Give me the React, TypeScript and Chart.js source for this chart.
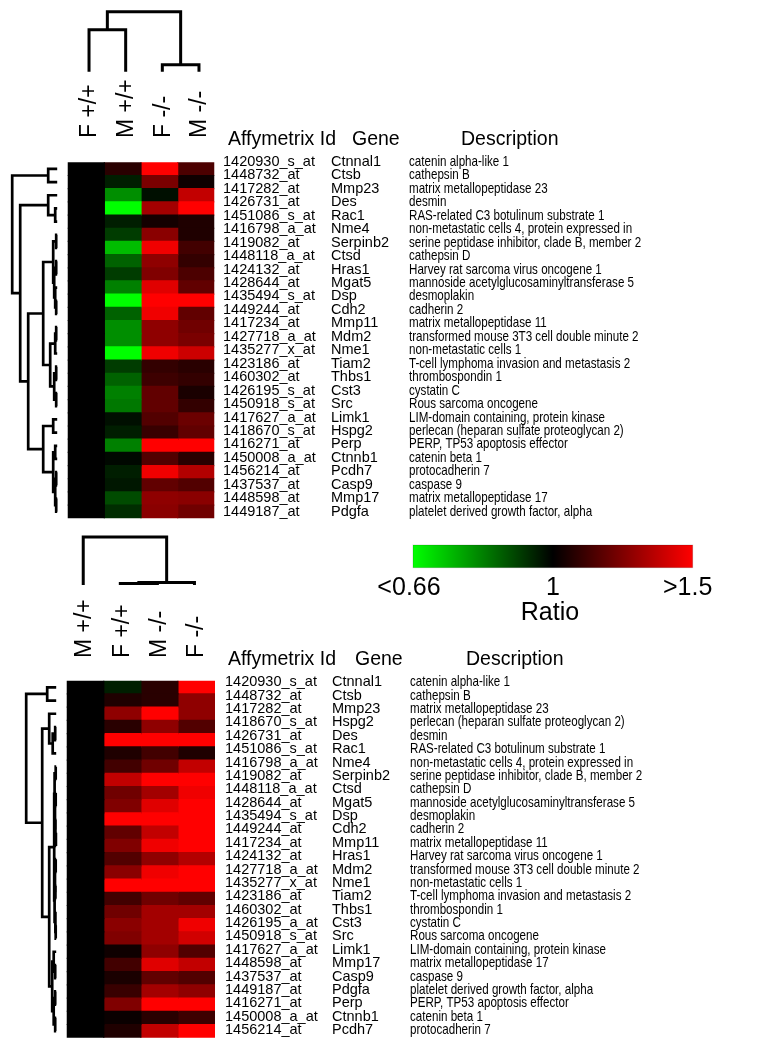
import React, { useEffect, useRef } from 'react';
import { Chart, registerables } from 'chart.js';
Chart.register(...registerables);

const FONT = '"Liberation Sans", Arial, Helvetica, sans-serif';

// ---------------- top panel data ----------------
const topColumns = ['F +/+', 'M +/+', 'F -/-', 'M -/-'];
const topIds = ['1420930_s_at', '1448732_at', '1417282_at', '1426731_at', '1451086_s_at', '1416798_a_at', '1419082_at', '1448118_a_at', '1424132_at', '1428644_at', '1435494_s_at', '1449244_at', '1417234_at', '1427718_a_at', '1435277_x_at', '1423186_at', '1460302_at', '1426195_s_at', '1450918_s_at', '1417627_a_at', '1418670_s_at', '1416271_at', '1450008_a_at', '1456214_at', '1437537_at', '1448598_at', '1449187_at'];
const topGenes = ['Ctnnal1', 'Ctsb', 'Mmp23', 'Des', 'Rac1', 'Nme4', 'Serpinb2', 'Ctsd', 'Hras1', 'Mgat5', 'Dsp', 'Cdh2', 'Mmp11', 'Mdm2', 'Nme1', 'Tiam2', 'Thbs1', 'Cst3', 'Src', 'Limk1', 'Hspg2', 'Perp', 'Ctnnb1', 'Pcdh7', 'Casp9', 'Mmp17', 'Pdgfa'];
const topDescs = ['catenin alpha-like 1', 'cathepsin B', 'matrix metallopeptidase 23', 'desmin', 'RAS-related C3 botulinum substrate 1', 'non-metastatic cells 4, protein expressed in', 'serine peptidase inhibitor, clade B, member 2', 'cathepsin D', 'Harvey rat sarcoma virus oncogene 1', 'mannoside acetylglucosaminyltransferase 5', 'desmoplakin', 'cadherin 2', 'matrix metallopeptidase 11', 'transformed mouse 3T3 cell double minute 2', 'non-metastatic cells 1', 'T-cell lymphoma invasion and metastasis 2', 'thrombospondin 1', 'cystatin C', 'Rous sarcoma oncogene', 'LIM-domain containing, protein kinase', 'perlecan (heparan sulfate proteoglycan 2)', 'PERP, TP53 apoptosis effector', 'catenin beta 1', 'protocadherin 7', 'caspase 9', 'matrix metallopeptidase 17', 'platelet derived growth factor, alpha'];
const topRatioFwt = [1, 1, 1, 1, 1, 1, 1, 1, 1, 1, 1, 1, 1, 1, 1, 1, 1, 1, 1, 1, 1, 1, 1, 1, 1, 1, 1];
const topRatioMwt = [1.08, 0.96, 0.81, 0.62, 0.96, 0.92, 0.75, 0.87, 0.92, 0.83, 0.6, 0.87, 0.81, 0.81, 0.63, 0.92, 0.87, 0.83, 0.84, 0.98, 0.96, 0.83, 0.99, 0.96, 0.97, 0.9, 0.94];
const topRatioFko = [1.6, 1.24, 0.98, 1.32, 1.04, 1.27, 1.47, 1.28, 1.25, 1.44, 1.7, 1.47, 1.28, 1.28, 1.47, 1.1, 1.12, 1.19, 1.19, 1.16, 1.11, 1.6, 1.16, 1.47, 1.19, 1.28, 1.27];
const topRatioMko = [1.15, 1.03, 1.38, 1.6, 1.06, 1.06, 1.13, 1.1, 1.15, 1.19, 1.65, 1.19, 1.22, 1.24, 1.4, 1.08, 1.1, 1.05, 1.1, 1.21, 1.19, 1.55, 1.08, 1.35, 1.16, 1.27, 1.22];

// ---------------- bottom panel data ----------------
const bottomColumns = ['M +/+', 'F +/+', 'M -/-', 'F -/-'];
const bottomIds = ['1420930_s_at', '1448732_at', '1417282_at', '1418670_s_at', '1426731_at', '1451086_s_at', '1416798_a_at', '1419082_at', '1448118_a_at', '1428644_at', '1435494_s_at', '1449244_at', '1417234_at', '1424132_at', '1427718_a_at', '1435277_x_at', '1423186_at', '1460302_at', '1426195_a_at', '1450918_s_at', '1417627_a_at', '1448598_at', '1437537_at', '1449187_at', '1416271_at', '1450008_a_at', '1456214_at'];
const bottomGenes = ['Ctnnal1', 'Ctsb', 'Mmp23', 'Hspg2', 'Des', 'Rac1', 'Nme4', 'Serpinb2', 'Ctsd', 'Mgat5', 'Dsp', 'Cdh2', 'Mmp11', 'Hras1', 'Mdm2', 'Nme1', 'Tiam2', 'Thbs1', 'Cst3', 'Src', 'Limk1', 'Mmp17', 'Casp9', 'Pdgfa', 'Perp', 'Ctnnb1', 'Pcdh7'];
const bottomDescs = ['catenin alpha-like 1', 'cathepsin B', 'matrix metallopeptidase 23', 'perlecan (heparan sulfate proteoglycan 2)', 'desmin', 'RAS-related C3 botulinum substrate 1', 'non-metastatic cells 4, protein expressed in', 'serine peptidase inhibitor, clade B, member 2', 'cathepsin D', 'mannoside acetylglucosaminyltransferase 5', 'desmoplakin', 'cadherin 2', 'matrix metallopeptidase 11', 'Harvey rat sarcoma virus oncogene 1', 'transformed mouse 3T3 cell double minute 2', 'non-metastatic cells 1', 'T-cell lymphoma invasion and metastasis 2', 'thrombospondin 1', 'cystatin C', 'Rous sarcoma oncogene', 'LIM-domain containing, protein kinase', 'matrix metallopeptidase 17', 'caspase 9', 'platelet derived growth factor, alpha', 'PERP, TP53 apoptosis effector', 'catenin beta 1', 'protocadherin 7'];
const bottomRatioMwt = [1, 1, 1, 1, 1, 1, 1, 1, 1, 1, 1, 1, 1, 1, 1, 1, 1, 1, 1, 1, 1, 1, 1, 1, 1, 1, 1];
const bottomRatioFwt = [0.96, 1.06, 1.28, 1.08, 1.7, 1.06, 1.13, 1.38, 1.22, 1.25, 1.8, 1.19, 1.25, 1.16, 1.27, 1.65, 1.13, 1.22, 1.27, 1.25, 1.03, 1.13, 1.05, 1.11, 1.25, 1.02, 1.06];
const bottomRatioMko = [1.08, 1.08, 1.55, 1.28, 1.65, 1.13, 1.22, 1.55, 1.32, 1.44, 1.7, 1.38, 1.47, 1.28, 1.47, 1.7, 1.22, 1.32, 1.32, 1.32, 1.28, 1.44, 1.19, 1.32, 1.55, 1.08, 1.38];
const bottomRatioFko = [1.6, 1.28, 1.28, 1.16, 1.75, 1.06, 1.38, 1.6, 1.47, 1.52, 1.75, 1.55, 1.58, 1.35, 1.56, 1.6, 1.19, 1.32, 1.47, 1.41, 1.16, 1.38, 1.16, 1.28, 1.6, 1.12, 1.6];

// ---------------- legend ----------------
const legendTicks = ['<0.66', '1', '>1.5'];
const legendTitle = 'Ratio';
const RATIO_LOW = 0.66;
const RATIO_HIGH = 1.5;

// ---------------- dendrograms: [left, right, height] ----------------
type Tree = number | [Tree, Tree, number];
const topRowTree: Tree = [
  [0, 1, 9],
  [
    [2, [3, 4, 2], 9],
    [
      [
        [[5, 6, 1], [[7, 8, 1], [9, [10, 11, 1], 2], 3], 4],
        [[[12, 13, 1], 14, 2], [[15, 16, 1], [17, 18, 1], 3], 7],
        14,
      ],
      [
        [19, 20, 4],
        [[21, 22, 2], [[23, 24, 1], [25, 26, 1], 2], 4],
        14,
      ],
      29,
    ],
    37,
  ],
  45,
];
const topColTree: Tree = [[0, 1, 42], [2, 3, 7], 60];

const bottomRowTree: Tree = [
  [0, 1, 9],
  [
    [2, [[3, 4, 1], 5, 3.5], 7],
    [
      [
        [[6, 7, 0.5], [[8, 9, 0.5], [10, [11, 12, 0.3], 0.8], 1.2], 1.6],
        [[[13, 14, 0.5], [15, 16, 0.8], 1.2], [17, [18, 19, 0.5], 0.8], 1.6],
        2,
      ],
      [[20, [21, 22, 1], 2.5], [[23, 24, 1], [25, 26, 1], 2.5], 4],
      7,
    ],
    14,
  ],
  30,
];
const bottomColTree: Tree = [0, [[1, 2, 1.5], 3, 2.5], 48];

function ratioColor(r: number): string {
  if (r >= 1) {
    const t = Math.min(1, (r - 1) / (RATIO_HIGH - 1));
    return `rgb(${Math.round(255 * t)},0,0)`;
  }
  const t = Math.min(1, (1 - r) / (1 - RATIO_LOW));
  return `rgb(0,${Math.round(255 * t)},0)`;
}

type Panel = {
  columns: string[];
  ids: string[];
  genes: string[];
  descs: string[];
  ratios: number[][];
  rowTree: Tree;
  colTree: Tree;
  box: { left: number; right: number; top: number; bottom: number };
  colBaseY: number;
  colLeafDx: number;
  labelStartY: number;
  labelDx: number;
  headerY: number;
  headerX: number[];
  textX: number[];
  textDyFirst: number;
  textDyLast: number;
  legend: boolean;
};

const W = 762;
const H = 525;

const topPanel: Panel = {
  columns: topColumns,
  ids: topIds,
  genes: topGenes,
  descs: topDescs,
  ratios: [topRatioFwt, topRatioMwt, topRatioFko, topRatioMko],
  rowTree: topRowTree,
  colTree: topColTree,
  box: { left: 67.7, right: 214.3, top: 162.3, bottom: 518.3 },
  colBaseY: 71.7,
  colLeafDx: 3,
  labelStartY: 138,
  labelDx: 2,
  headerY: 140,
  headerX: [228, 352, 461],
  textX: [223, 331, 409],
  textDyFirst: -7,
  textDyLast: 0,
  legend: false,
};

const bottomPanel: Panel = {
  columns: bottomColumns,
  ids: bottomIds,
  genes: bottomGenes,
  descs: bottomDescs,
  ratios: [bottomRatioMwt, bottomRatioFwt, bottomRatioMko, bottomRatioFko],
  rowTree: bottomRowTree,
  colTree: bottomColTree,
  box: { left: 66.7, right: 215, top: 155.7, bottom: 512.7 },
  colBaseY: 60,
  colLeafDx: -2,
  labelStartY: 133,
  labelDx: -2,
  headerY: 135,
  headerX: [228, 355, 466],
  textX: [225, 332, 410],
  textDyFirst: -5,
  textDyLast: -1,
  legend: true,
};

function makeDecor(panel: Panel) {
  return {
    id: 'heatDecor',
    afterDraw(chart: any) {
      const ctx: CanvasRenderingContext2D = chart.ctx;
      const xs = chart.scales.x;
      const ys = chart.scales.y;
      const area = chart.chartArea;
      ctx.save();
      ctx.strokeStyle = '#000';
      ctx.fillStyle = '#000';
      ctx.lineJoin = 'miter';
      ctx.lineCap = 'butt';

      // row dendrogram
      const leafX = area.left - 10.5;
      ctx.lineWidth = 2.7;
      const rowNode = (t: Tree): { y: number; h: number } => {
        if (typeof t === 'number') return { y: ys.getPixelForValue(t), h: 0 };
        const a = rowNode(t[0]);
        const b = rowNode(t[1]);
        const nx = leafX - t[2];
        ctx.beginPath();
        ctx.moveTo(leafX - a.h, a.y);
        ctx.lineTo(nx, a.y);
        ctx.lineTo(nx, b.y);
        ctx.lineTo(leafX - b.h, b.y);
        ctx.stroke();
        return { y: (a.y + b.y) / 2, h: t[2] };
      };
      rowNode(panel.rowTree);

      // column dendrogram
      ctx.lineWidth = 3;
      const base = panel.colBaseY;
      const colNode = (t: Tree): { x: number; h: number } => {
        if (typeof t === 'number') return { x: xs.getPixelForValue(t + 0.5) + panel.colLeafDx, h: 0 };
        const a = colNode(t[0]);
        const b = colNode(t[1]);
        const ny = base - t[2];
        ctx.beginPath();
        ctx.moveTo(a.x, base - a.h);
        ctx.lineTo(a.x, ny);
        ctx.lineTo(b.x, ny);
        ctx.lineTo(b.x, base - b.h);
        ctx.stroke();
        return { x: (a.x + b.x) / 2, h: t[2] };
      };
      colNode(panel.colTree);

      // column labels (rotated)
      const colFont = 23;
      ctx.font = `${colFont}px ${FONT}`;
      ctx.textAlign = 'left';
      ctx.textBaseline = 'alphabetic';
      panel.columns.forEach((lab, i) => {
        const cx = xs.getPixelForValue(i + 0.5) + panel.labelDx;
        ctx.save();
        ctx.translate(cx, panel.labelStartY);
        ctx.rotate(-Math.PI / 2);
        ctx.fillText(lab, 0, colFont * 0.716 / 2);
        ctx.restore();
      });

      // headers
      ctx.font = `19.5px ${FONT}`;
      ctx.textBaseline = 'middle';
      ['Affymetrix Id', 'Gene', 'Description'].forEach((h, i) => {
        ctx.fillText(h, panel.headerX[i], panel.headerY);
      });

      // row texts
      ctx.font = `14.5px ${FONT}`;
      ctx.textBaseline = 'middle';
      const n = panel.ids.length;
      panel.ids.forEach((id, r) => {
        const dy = panel.textDyFirst + (panel.textDyLast - panel.textDyFirst) * r / (n - 1);
        const y = ys.getPixelForValue(r) + dy;
        ctx.fillText(id, panel.textX[0], y);
        ctx.fillText(panel.genes[r], panel.textX[1], y);
        ctx.save();
        ctx.translate(panel.textX[2], y);
        ctx.scale(0.8, 1);
        ctx.fillText(panel.descs[r], 0, 0);
        ctx.restore();
      });

      // legend colour bar
      if (panel.legend) {
        const x0 = 413;
        const x1 = 692.7;
        const y0 = 20;
        const y1 = 42.7;
        const g = ctx.createLinearGradient(x0, 0, x1, 0);
        g.addColorStop(0, ratioColor(RATIO_LOW));
        g.addColorStop(0.5, ratioColor(1));
        g.addColorStop(1, ratioColor(RATIO_HIGH));
        ctx.fillStyle = g;
        ctx.fillRect(x0, y0, x1 - x0, y1 - y0);
        ctx.strokeStyle = 'rgba(0,0,0,0.15)';
        ctx.lineWidth = 1;
        ctx.strokeRect(x0, y0, x1 - x0, y1 - y0);
        ctx.fillStyle = '#000';
        ctx.font = `25px ${FONT}`;
        ctx.textBaseline = 'alphabetic';
        ctx.textAlign = 'center';
        const tx = [x0 - 4, (x0 + x1) / 2, x1 - 5];
        legendTicks.forEach((t, i) => ctx.fillText(t, tx[i], 70));
        ctx.fillText(legendTitle, 550, 95);
      }
      ctx.restore();
    },
  };
}

function HeatPanel({ panel }: { panel: Panel }) {
  const ref = useRef<HTMLCanvasElement>(null);
  useEffect(() => {
    if (!ref.current) return;
    const datasets = panel.ratios.map((col, k) => ({
      label: panel.columns[k],
      data: col.map(() => [k, k + 1]),
      backgroundColor: col.map(ratioColor),
      borderWidth: 0,
      inflateAmount: 0.6,
      barPercentage: 1,
      categoryPercentage: 1,
      grouped: false,
    }));
    const chart = new Chart(ref.current, {
      type: 'bar',
      data: { labels: panel.ids, datasets: datasets as any },
      options: {
        indexAxis: 'y',
        responsive: false,
        animation: false,
        devicePixelRatio: 1,
        events: [],
        layout: {
          padding: {
            left: panel.box.left,
            right: W - panel.box.right,
            top: panel.box.top,
            bottom: H - panel.box.bottom,
          },
        },
        scales: {
          x: { type: 'linear', min: 0, max: 4, display: false },
          y: { type: 'category', display: false, offset: true },
        },
        plugins: { legend: { display: false }, tooltip: { enabled: false } },
      },
      plugins: [makeDecor(panel)],
    });
    return () => chart.destroy();
  }, [panel]);
  return <canvas ref={ref} width={W} height={H} style={{ display: 'block', width: W, height: H }} />;
}

export default function App() {
  return (
    <div style={{ position: 'absolute', left: 0, top: 0, width: W, height: 2 * H, background: '#fff' }}>
      <HeatPanel panel={topPanel} />
      <HeatPanel panel={bottomPanel} />
    </div>
  );
}
